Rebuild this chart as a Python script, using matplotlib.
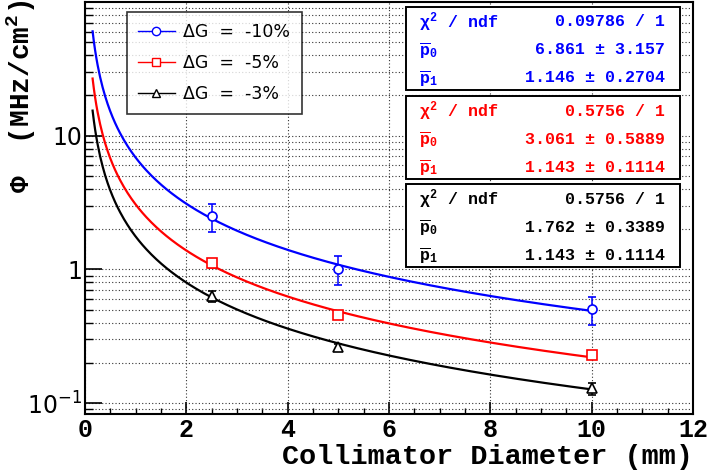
import numpy as np
import matplotlib
matplotlib.use("Agg")
import matplotlib.pyplot as plt
from matplotlib.lines import Line2D
from matplotlib.patches import Rectangle
from matplotlib.ticker import LogLocator, MultipleLocator, NullFormatter

plt.rcParams.update({
    "mathtext.fontset": "custom",
    "mathtext.rm": "Liberation Mono:bold",
    "mathtext.bf": "Liberation Mono:bold",
    "mathtext.it": "Liberation Mono:bold",
    "mathtext.sf": "DejaVu Sans",
})

# data
diameters = [2.5, 5.0, 10.0]
flux_10 = [2.50, 1.01, 0.505]
err_10 = [0.60, 0.25, 0.12]
flux_5 = [1.11, 0.459, 0.228]
err_5 = [0.08, 0.03, 0.015]
flux_3 = [0.63, 0.263, 0.129]
err_3 = [0.055, 0.015, 0.013]

labels = ["\u0394G  =  -10%", "\u0394G  =  -5%", "\u0394G  =  -3%"]
colors = ["#0000ff", "#ff0000", "#000000"]
markers = ["o", "s", "^"]

# fit results p0 * x^-p1
chi2 = ["0.09786 / 1", "0.5756 / 1", "0.5756 / 1"]
p0 = [6.861, 3.061, 1.762]
p0_err = ["3.157", "0.5889", "0.3389"]
p1 = [1.146, 1.143, 1.143]
p1_err = ["0.2704", "0.1114", "0.1114"]

fig = plt.figure(figsize=(7.11, 4.73), dpi=100)
ax = fig.add_axes([85 / 711, 59 / 473, 608 / 711, 412 / 473])

xs = np.linspace(0.15, 10, 400)
series = [(flux_10, err_10), (flux_5, err_5), (flux_3, err_3)]
for i, (y, e) in enumerate(series):
    ax.plot(xs, p0[i] * xs ** (-p1[i]), color=colors[i], lw=1.6, zorder=3)
    ax.errorbar(diameters, y, yerr=e, fmt=markers[i], color=colors[i], mfc="white",
                mec=colors[i], ms=6.5, mew=1.2, elinewidth=1.1, capsize=3, zorder=4)

ax.set_yscale("log")
ax.set_xlim(0, 12)
ax.set_ylim(0.083, 100)

ax.xaxis.set_major_locator(MultipleLocator(2))
ax.xaxis.set_minor_locator(MultipleLocator(0.5))
ax.yaxis.set_minor_locator(LogLocator(base=10, subs=np.arange(2, 10), numticks=20))
ax.yaxis.set_minor_formatter(NullFormatter())
ax.set_yticks([0.1, 1, 10])
ax.set_yticklabels([r"$\mathsf{10^{-1}}$", "1", "10"])

ax.grid(True, which="major", axis="x", color="0.2", linestyle=(0, (1, 2)), lw=0.8)
ax.grid(True, which="both", axis="y", color="0.2", linestyle=(0, (1, 2)), lw=0.8)

ax.tick_params(axis="both", which="both", direction="in", top=False, right=False)
ax.tick_params(axis="y", which="major", length=12, width=1.2, pad=2, labelsize=17)
ax.tick_params(axis="y", which="minor", length=6, width=1.0)
ax.tick_params(axis="x", which="major", length=9, width=1.2, pad=3, labelsize=18)
ax.tick_params(axis="x", which="minor", length=4.5, width=1.0)
for lab in ax.get_xticklabels():
    lab.set_family("Liberation Mono")
    lab.set_weight("bold")
for lab in ax.get_yticklabels():
    lab.set_family("DejaVu Sans")
for s in ax.spines.values():
    s.set_linewidth(1.5)

ax.set_xlabel("Collimator Diameter (mm)", family="Liberation Mono", weight="bold",
              fontsize=20.5, loc="right")
ax.xaxis.set_label_coords(1.0, -0.072)
ax.set_ylabel("\u03a6  (MHz/cm$^{\\mathbf{2}}$)", family="Liberation Mono", weight="bold",
              fontsize=20, loc="top")
ax.yaxis.set_label_coords(-0.077, 1.005)

handles = [Line2D([], [], color=colors[i], marker=markers[i], mfc="white", ms=6, lw=1)
           for i in range(3)]
leg = ax.legend(handles, labels, loc="upper left", bbox_to_anchor=(0.069, 0.976),
                borderaxespad=0, frameon=True, fancybox=False, edgecolor="black",
                prop={"family": "DejaVu Sans", "size": 12.5}, handlelength=2.1,
                handletextpad=0.5, labelspacing=0.75, borderpad=0.65)
leg.get_frame().set_linewidth(1.2)
leg.set_zorder(6)

# stat boxes
bx0, bx1 = (406 - 85) / 608, (680 - 85) / 608
tx0, tx1 = (419 - 85) / 608, (665 - 85) / 608
box_tops = [7, 96, 184]
box_h = 83
for i in range(3):
    top = (414 - box_tops[i]) / 412
    bottom = (414 - box_tops[i] - box_h) / 412
    ax.add_patch(Rectangle((bx0, bottom), bx1 - bx0, top - bottom, transform=ax.transAxes,
                           facecolor="white", edgecolor="black", lw=1.4, zorder=7))
    rows = [(r"$\chi^{2}$ / ndf", chi2[i]),
            (r"$\overline{\rm p}_{0}$", f"{p0[i]:.3f} \u00b1 {p0_err[i]}"),
            (r"$\overline{\rm p}_{1}$", f"{p1[i]:.3f} \u00b1 {p1_err[i]}")]
    for k, (name, val) in enumerate(rows):
        yy = (414 - box_tops[i] - 15 - 28 * k) / 412
        ax.text(tx0, yy, name, transform=ax.transAxes, ha="left", va="center",
                family="Liberation Mono", weight="bold", fontsize=12, color=colors[i], zorder=8)
        ax.text(tx1, yy, val, transform=ax.transAxes, ha="right", va="center",
                family="Liberation Mono", weight="bold", fontsize=12, color=colors[i], zorder=8)

fig.savefig("out.png", dpi=100)
